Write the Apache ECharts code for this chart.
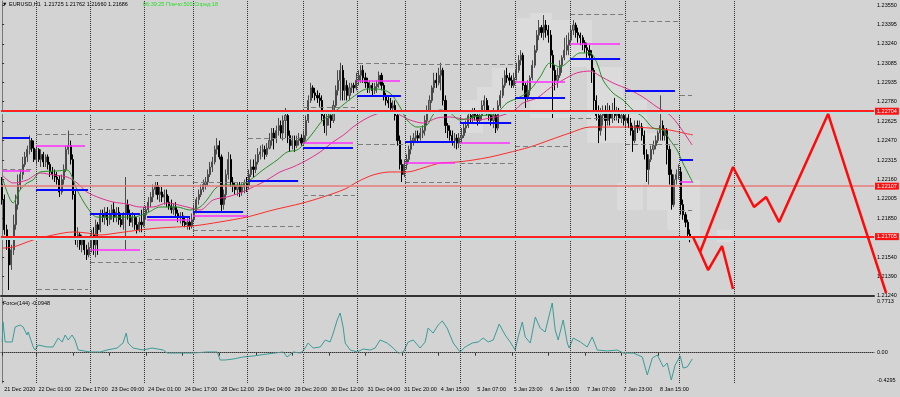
<!DOCTYPE html>
<html>
<head>
<meta charset="utf-8">
<title>EURUSD,H1</title>
<script src="https://cdn.jsdelivr.net/npm/echarts@6/dist/echarts.min.js"></script>
<style>
html, body { margin: 0; padding: 0; background: #d3d3d3; }
#chart { width: 900px; height: 397px; }
</style>
</head>
<body>
<div id="chart"></div>
<script>
// EURUSD H1, 21 Dec 2020 - 8 Jan 2021 (MT4 screenshot)
var FONT = 'Liberation Sans, DejaVu Sans';
var NSLOTS = 382;     // bar slots across the plot, incl. the empty space on the right
var NSLOTS_WIDE = 389; // overlay that runs over the price scale (forecast tail)

// [open, close, low, high]
var candles = [
[1.2212,1.2200,1.2196,1.2218],[1.2200,1.2176,1.2172,1.2204],[1.2176,1.2168,1.2160,1.2180],[1.2168,1.2148,1.2128,1.2168],[1.2148,1.2160,1.2144,1.2164],
[1.2160,1.2180,1.2156,1.2188],[1.2180,1.2196,1.2176,1.2204],[1.2196,1.2212,1.2192,1.2220],[1.2212,1.2220,1.2208,1.2224],[1.2220,1.2228,1.2216,1.2234],
[1.2228,1.2234,1.2226,1.2238],[1.2234,1.2240,1.2230,1.2243],[1.2240,1.2247,1.2236,1.2251],[1.2247,1.2241,1.2238,1.2249],[1.2241,1.2232,1.2230,1.2247],
[1.2232,1.2240,1.2228,1.2243],[1.2240,1.2232,1.2230,1.2241],[1.2232,1.2236,1.2226,1.2240],[1.2236,1.2230,1.2226,1.2238],[1.2230,1.2234,1.2226,1.2236],
[1.2234,1.2228,1.2224,1.2236],[1.2228,1.2222,1.2218,1.2230],[1.2222,1.2220,1.2216,1.2226],[1.2220,1.2218,1.2214,1.2224],[1.2218,1.2216,1.2212,1.2222],
[1.2216,1.2206,1.2202,1.2219],[1.2206,1.2216,1.2204,1.2220],[1.2216,1.2224,1.2212,1.2228],[1.2224,1.2240,1.2222,1.2243],[1.2240,1.2243,1.2236,1.2255],
[1.2243,1.2232,1.2228,1.2247],[1.2232,1.2204,1.2200,1.2236],[1.2204,1.2168,1.2164,1.2208],[1.2168,1.2172,1.2162,1.2178],[1.2172,1.2164,1.2160,1.2174],
[1.2164,1.2168,1.2158,1.2172],[1.2168,1.2160,1.2156,1.2170],[1.2160,1.2156,1.2152,1.2164],[1.2156,1.2162,1.2154,1.2166],[1.2162,1.2172,1.2158,1.2176],
[1.2172,1.2164,1.2156,1.2178],[1.2164,1.2180,1.2154,1.2184],[1.2180,1.2176,1.2156,1.2182],[1.2176,1.2188,1.2174,1.2192],[1.2188,1.2186,1.2182,1.2192],
[1.2186,1.2190,1.2180,1.2194],[1.2190,1.2184,1.2179,1.2194],[1.2184,1.2188,1.2180,1.2192],[1.2188,1.2192,1.2184,1.2196],[1.2192,1.2186,1.2182,1.2198],
[1.2186,1.2190,1.2182,1.2194],[1.2190,1.2184,1.2180,1.2194],[1.2184,1.2180,1.2178,1.2189],[1.2180,1.2188,1.2176,1.2190],[1.2188,1.2196,1.2160,1.2218],
[1.2196,1.2188,1.2184,1.2200],[1.2188,1.2182,1.2179,1.2192],[1.2182,1.2186,1.2178,1.2190],[1.2186,1.2180,1.2176,1.2189],[1.2180,1.2176,1.2173,1.2186],
[1.2176,1.2182,1.2174,1.2186],[1.2182,1.2180,1.2174,1.2192],[1.2180,1.2188,1.2178,1.2194],[1.2188,1.2192,1.2184,1.2195],[1.2192,1.2198,1.2190,1.2202],
[1.2198,1.2202,1.2194,1.2206],[1.2202,1.2208,1.2198,1.2212],[1.2208,1.2211,1.2204,1.2214],[1.2211,1.2204,1.2200,1.2214],[1.2204,1.2206,1.2198,1.2210],
[1.2206,1.2202,1.2198,1.2210],[1.2202,1.2204,1.2196,1.2208],[1.2204,1.2198,1.2194,1.2208],[1.2198,1.2195,1.2192,1.2203],[1.2195,1.2192,1.2189,1.2200],
[1.2192,1.2194,1.2188,1.2197],[1.2194,1.2189,1.2186,1.2198],[1.2189,1.2186,1.2182,1.2192],[1.2186,1.2187,1.2181,1.2190],[1.2187,1.2182,1.2179,1.2190],
[1.2182,1.2180,1.2178,1.2187],[1.2180,1.2182,1.2176,1.2185],[1.2182,1.2179,1.2176,1.2186],[1.2179,1.2184,1.2177,1.2189],[1.2184,1.2190,1.2182,1.2196],
[1.2190,1.2200,1.2189,1.2202],[1.2200,1.2204,1.2196,1.2208],[1.2204,1.2208,1.2202,1.2212],[1.2208,1.2212,1.2206,1.2216],[1.2212,1.2214,1.2208,1.2218],
[1.2214,1.2220,1.2211,1.2224],[1.2220,1.2226,1.2218,1.2230],[1.2226,1.2230,1.2222,1.2234],[1.2230,1.2240,1.2228,1.2243],[1.2240,1.2243,1.2236,1.2249],
[1.2243,1.2234,1.2232,1.2247],[1.2234,1.2196,1.2190,1.2236],[1.2196,1.2204,1.2192,1.2208],[1.2204,1.2220,1.2200,1.2224],[1.2220,1.2232,1.2216,1.2238],
[1.2232,1.2214,1.2210,1.2236],[1.2214,1.2211,1.2206,1.2218],[1.2211,1.2208,1.2204,1.2214],[1.2208,1.2211,1.2203,1.2214],[1.2211,1.2206,1.2202,1.2214],
[1.2206,1.2210,1.2203,1.2213],[1.2210,1.2213,1.2205,1.2216],[1.2213,1.2211,1.2206,1.2218],[1.2211,1.2220,1.2208,1.2224],[1.2220,1.2226,1.2218,1.2232],
[1.2226,1.2224,1.2218,1.2232],[1.2224,1.2230,1.2221,1.2236],[1.2230,1.2236,1.2228,1.2241],[1.2236,1.2238,1.2232,1.2243],[1.2238,1.2240,1.2234,1.2244],
[1.2240,1.2236,1.2232,1.2243],[1.2236,1.2241,1.2234,1.2245],[1.2241,1.2247,1.2240,1.2253],[1.2247,1.2253,1.2243,1.2257],[1.2253,1.2249,1.2240,1.2257],
[1.2249,1.2255,1.2245,1.2259],[1.2255,1.2259,1.2251,1.2265],[1.2259,1.2253,1.2249,1.2263],[1.2253,1.2263,1.2247,1.2267],[1.2263,1.2267,1.2249,1.2273],
[1.2267,1.2251,1.2245,1.2269],[1.2251,1.2243,1.2238,1.2255],[1.2243,1.2247,1.2240,1.2251],[1.2247,1.2243,1.2238,1.2251],[1.2243,1.2247,1.2241,1.2251],
[1.2247,1.2249,1.2243,1.2253],[1.2249,1.2245,1.2243,1.2252],[1.2245,1.2251,1.2244,1.2255],[1.2251,1.2263,1.2247,1.2267],[1.2263,1.2279,1.2261,1.2283],
[1.2279,1.2289,1.2277,1.2293],[1.2289,1.2285,1.2281,1.2291],[1.2285,1.2283,1.2279,1.2289],[1.2283,1.2281,1.2277,1.2287],[1.2281,1.2279,1.2274,1.2285],
[1.2279,1.2267,1.2263,1.2283],[1.2267,1.2259,1.2253,1.2269],[1.2259,1.2265,1.2251,1.2269],[1.2265,1.2267,1.2259,1.2271],[1.2267,1.2263,1.2257,1.2271],
[1.2263,1.2275,1.2261,1.2279],[1.2275,1.2287,1.2273,1.2291],[1.2287,1.2295,1.2283,1.2303],[1.2295,1.2303,1.2279,1.2309],[1.2303,1.2287,1.2279,1.2307],
[1.2287,1.2291,1.2279,1.2297],[1.2291,1.2283,1.2279,1.2295],[1.2283,1.2289,1.2279,1.2293],[1.2289,1.2291,1.2285,1.2293],[1.2291,1.2289,1.2285,1.2293],
[1.2289,1.2295,1.2287,1.2301],[1.2295,1.2299,1.2291,1.2303],[1.2299,1.2303,1.2293,1.2307],[1.2303,1.2297,1.2293,1.2307],[1.2297,1.2293,1.2289,1.2301],
[1.2293,1.2289,1.2285,1.2297],[1.2289,1.2291,1.2285,1.2295],[1.2291,1.2287,1.2283,1.2293],[1.2287,1.2290,1.2284,1.2293],[1.2290,1.2292,1.2285,1.2295],
[1.2292,1.2299,1.2289,1.2302],[1.2299,1.2291,1.2287,1.2301],[1.2291,1.2283,1.2279,1.2293],[1.2283,1.2279,1.2275,1.2285],[1.2279,1.2277,1.2273,1.2283],
[1.2277,1.2273,1.2269,1.2281],[1.2273,1.2275,1.2269,1.2279],[1.2275,1.2267,1.2263,1.2279],[1.2267,1.2247,1.2243,1.2269],[1.2247,1.2228,1.2224,1.2251],
[1.2228,1.2220,1.2214,1.2232],[1.2220,1.2228,1.2218,1.2232],[1.2228,1.2232,1.2224,1.2236],[1.2232,1.2240,1.2230,1.2243],[1.2240,1.2247,1.2236,1.2251],
[1.2247,1.2249,1.2243,1.2253],[1.2249,1.2251,1.2245,1.2255],[1.2251,1.2249,1.2245,1.2255],[1.2249,1.2253,1.2247,1.2257],[1.2253,1.2255,1.2249,1.2259],
[1.2255,1.2263,1.2251,1.2267],[1.2263,1.2271,1.2259,1.2275],[1.2271,1.2279,1.2269,1.2283],[1.2279,1.2289,1.2277,1.2291],[1.2289,1.2295,1.2285,1.2301],
[1.2295,1.2293,1.2289,1.2301],[1.2293,1.2299,1.2291,1.2305],[1.2299,1.2303,1.2287,1.2309],[1.2303,1.2279,1.2275,1.2305],[1.2279,1.2259,1.2253,1.2283],
[1.2259,1.2255,1.2249,1.2261],[1.2255,1.2251,1.2247,1.2259],[1.2251,1.2247,1.2243,1.2255],[1.2247,1.2249,1.2241,1.2253],[1.2249,1.2245,1.2240,1.2252],
[1.2245,1.2249,1.2241,1.2253],[1.2249,1.2251,1.2245,1.2257],[1.2251,1.2257,1.2249,1.2261],[1.2257,1.2259,1.2253,1.2263],[1.2259,1.2267,1.2257,1.2271],
[1.2267,1.2265,1.2261,1.2271],[1.2265,1.2269,1.2261,1.2273],[1.2269,1.2267,1.2263,1.2273],[1.2267,1.2263,1.2259,1.2271],[1.2263,1.2267,1.2261,1.2271],
[1.2267,1.2275,1.2263,1.2279],[1.2275,1.2279,1.2269,1.2283],[1.2279,1.2271,1.2267,1.2281],[1.2271,1.2267,1.2263,1.2275],[1.2267,1.2263,1.2259,1.2271],
[1.2263,1.2267,1.2257,1.2273],[1.2267,1.2257,1.2253,1.2269],[1.2257,1.2275,1.2255,1.2279],[1.2275,1.2283,1.2273,1.2287],[1.2283,1.2291,1.2281,1.2297],
[1.2291,1.2299,1.2289,1.2303],[1.2299,1.2297,1.2293,1.2305],[1.2297,1.2295,1.2291,1.2301],[1.2295,1.2291,1.2289,1.2299],[1.2291,1.2297,1.2289,1.2301],
[1.2297,1.2303,1.2295,1.2309],[1.2303,1.2311,1.2301,1.2315],[1.2311,1.2315,1.2307,1.2319],[1.2315,1.2291,1.2287,1.2317],[1.2291,1.2281,1.2273,1.2293],
[1.2281,1.2287,1.2279,1.2295],[1.2287,1.2297,1.2283,1.2299],[1.2297,1.2307,1.2295,1.2311],[1.2307,1.2319,1.2305,1.2323],[1.2319,1.2331,1.2317,1.2335],
[1.2331,1.2337,1.2327,1.2343],[1.2337,1.2333,1.2329,1.2339],[1.2333,1.2339,1.2327,1.2347],[1.2339,1.2335,1.2329,1.2343],[1.2335,1.2331,1.2325,1.2339],
[1.2331,1.2315,1.2305,1.2335],[1.2315,1.2303,1.2265,1.2319],[1.2303,1.2295,1.2287,1.2307],[1.2295,1.2299,1.2289,1.2305],[1.2299,1.2307,1.2297,1.2311],
[1.2307,1.2313,1.2301,1.2315],[1.2313,1.2319,1.2311,1.2329],[1.2319,1.2323,1.2315,1.2331],[1.2323,1.2327,1.2315,1.2333],[1.2327,1.2335,1.2325,1.2339],
[1.2335,1.2339,1.2331,1.2343],[1.2339,1.2333,1.2329,1.2341],[1.2333,1.2331,1.2325,1.2337],[1.2331,1.2329,1.2323,1.2333],[1.2329,1.2325,1.2319,1.2331],
[1.2325,1.2321,1.2317,1.2327],[1.2321,1.2319,1.2313,1.2325],[1.2319,1.2315,1.2311,1.2323],[1.2315,1.2303,1.2293,1.2319],[1.2303,1.2279,1.2271,1.2305],
[1.2279,1.2267,1.2263,1.2283],[1.2267,1.2255,1.2245,1.2275],[1.2255,1.2267,1.2251,1.2273],[1.2267,1.2271,1.2259,1.2275],[1.2271,1.2263,1.2247,1.2275],
[1.2263,1.2269,1.2259,1.2277],[1.2269,1.2265,1.2259,1.2275],[1.2265,1.2271,1.2261,1.2277],[1.2271,1.2267,1.2263,1.2281],[1.2267,1.2269,1.2263,1.2274],
[1.2269,1.2265,1.2261,1.2273],[1.2265,1.2267,1.2261,1.2271],[1.2267,1.2263,1.2259,1.2269],[1.2263,1.2265,1.2257,1.2269],[1.2265,1.2261,1.2257,1.2268],
[1.2261,1.2255,1.2251,1.2265],[1.2255,1.2247,1.2238,1.2259],[1.2247,1.2259,1.2245,1.2263],[1.2259,1.2257,1.2253,1.2263],[1.2257,1.2258,1.2255,1.2263],
[1.2258,1.2251,1.2247,1.2261],[1.2251,1.2236,1.2232,1.2255],[1.2236,1.2224,1.2214,1.2240],[1.2224,1.2232,1.2212,1.2236],[1.2232,1.2240,1.2230,1.2243],
[1.2240,1.2243,1.2236,1.2247],[1.2243,1.2247,1.2240,1.2251],[1.2247,1.2253,1.2245,1.2255],[1.2253,1.2259,1.2247,1.2283],[1.2259,1.2251,1.2247,1.2263],
[1.2251,1.2255,1.2247,1.2257],[1.2255,1.2240,1.2228,1.2257],[1.2240,1.2220,1.2212,1.2243],[1.2220,1.2196,1.2192,1.2224],[1.2196,1.2216,1.2194,1.2220],
[1.2216,1.2220,1.2212,1.2224],[1.2220,1.2222,1.2216,1.2228],[1.2222,1.2196,1.2188,1.2226],[1.2196,1.2188,1.2184,1.2200],[1.2188,1.2182,1.2178,1.2190],
[1.2182,1.21725,1.2171,1.2184],[1.21725,1.21686,1.21660,1.21762]
];

// moving averages: [bar position, price]
var maFast = [[0.4,1.22156],[4.8,1.21973],[7.8,1.22076],[10.9,1.22132],[13.5,1.22156],[16.6,1.22220],[24.0,1.22228],[28.4,1.22236],[32.8,1.22076],[37.1,1.21941],[41.5,1.21861],[47.2,1.21861],[57.3,1.21861],[63.4,1.21893],[69.1,1.21941],[76.5,1.21941],[82.2,1.21917],[86.6,1.21941],[89.6,1.21997],[94.0,1.22100],[98.4,1.22116],[104.1,1.22116],[108.5,1.22156],[114.1,1.22236],[120.3,1.22315],[124.7,1.22379],[129.0,1.22395],[131.6,1.22435],[136.0,1.22531],[140.4,1.22634],[146.5,1.22714],[153.5,1.22817],[159.7,1.22881],[164.0,1.22881],[169.7,1.22849],[174.1,1.22738],[177.2,1.22634],[181.5,1.22578],[185.9,1.22594],[188.5,1.22674],[191.6,1.22714],[196.0,1.22690],[200.3,1.22634],[206.0,1.22658],[212.2,1.22674],[216.5,1.22690],[220.9,1.22770],[226.6,1.22817],[231.0,1.22873],[235.4,1.22977],[239.7,1.23088],[244.1,1.23056],[248.5,1.23112],[252.9,1.23168],[257.2,1.23168],[260.3,1.23088],[262.9,1.22953],[267.3,1.22849],[271.7,1.22793],[276.0,1.22714],[280.4,1.22658],[284.8,1.22570],[289.2,1.22554],[292.2,1.22475],[295.3,1.22395],[297.9,1.22291],[302.3,1.22132]];
var maMid = [[0,1.22196],[4.8,1.22132],[10.9,1.22156],[16.6,1.22212],[22.3,1.22196],[28.4,1.22180],[32.8,1.22132],[37.1,1.22060],[42.8,1.22013],[48.5,1.21981],[54.6,1.21965],[60.3,1.21941],[66.0,1.21941],[72.1,1.21973],[80.9,1.21941],[86.6,1.21917],[92.3,1.21997],[98.4,1.22021],[104.1,1.22053],[109.8,1.22100],[115.9,1.22156],[121.6,1.22220],[127.3,1.22260],[133.4,1.22315],[139.1,1.22379],[144.8,1.22459],[150.0,1.22523],[153.5,1.22578],[159.7,1.22650],[165.3,1.22690],[171.0,1.22706],[174.1,1.22674],[178.5,1.22634],[184.2,1.22610],[190.3,1.22650],[196.0,1.22658],[201.7,1.22642],[207.8,1.22634],[213.5,1.22650],[219.2,1.22674],[224.4,1.22714],[227.9,1.22770],[234.0,1.22809],[239.7,1.22889],[245.4,1.22953],[251.5,1.23009],[257.2,1.23024],[261.6,1.22985],[267.3,1.22929],[274.7,1.22873],[280.4,1.22817],[286.5,1.22738],[292.2,1.22674],[296.6,1.22578],[301.9,1.22435]];
var maSlow = [[0,1.21614],[4.8,1.21622],[13.5,1.21678],[22.3,1.21718],[31.0,1.21742],[37.1,1.21734],[42.8,1.21718],[50.3,1.21734],[60.3,1.21758],[69.1,1.21774],[83.5,1.21790],[95.3,1.21822],[107.1,1.21861],[118.5,1.21917],[131.6,1.21973],[140.4,1.22021],[150.0,1.22084],[155.3,1.22140],[162.3,1.22196],[169.7,1.22220],[177.2,1.22220],[184.2,1.22252],[191.6,1.22291],[199.0,1.22299],[206.0,1.22315],[213.5,1.22339],[220.9,1.22371],[231.0,1.22419],[239.7,1.22475],[248.5,1.22531],[257.2,1.22578],[266.0,1.22578],[274.7,1.22578],[283.5,1.22570],[292.2,1.22554],[297.9,1.22531],[302.3,1.22515]];

// daily levels: [from bar, to bar, price]
var blueLevels = [[0,12.2,1.22491],[14.8,37.6,1.22076],[38.4,60.3,1.21885],[63.4,82.2,1.21861],[83.5,105.4,1.21901],[107.6,129.5,1.22148],[131.6,153.5,1.22411],[155.3,174.5,1.22825],[176.3,198.2,1.22459],[200.3,222.7,1.22610],[224.4,246.3,1.22809],[248.5,270.4,1.23120],[272.6,294.4,1.22865],[296.6,302.3,1.22315]];
var pinkLevels = [[0,12.2,1.22228],[14.8,36.3,1.22427],[38.4,60.3,1.21598],[63.4,82.2,1.21837],[83.5,107.1,1.21869],[131.6,153.5,1.22451],[155.3,174.1,1.22945],[176.3,198.2,1.22291],[200.3,222.2,1.22451],[224.4,246.3,1.22937],[248.5,270.4,1.23239],[296.6,301.9,1.22140]];
var dashLevels = [[0,13.5,1.22244],[15.3,37.6,1.22522],[15.3,37.6,1.21288],[38.4,61.6,1.22562],[38.4,61.6,1.21503],[63.4,83.1,1.22196],[63.4,83.1,1.21527],[83.5,107.1,1.22140],[83.5,107.1,1.21758],[107.6,130.3,1.22491],[107.6,130.3,1.21790],[131.6,154.4,1.22738],[131.6,154.4,1.22037],[155.7,176.3,1.23088],[155.7,176.3,1.22443],[176.3,199.5,1.23080],[176.3,199.5,1.22140],[200.3,224.4,1.23080],[200.3,224.4,1.22291],[224.4,247.6,1.22427],[248.5,271.7,1.23478],[248.5,271.7,1.22650],[272.6,295.7,1.23423],[272.6,295.7,1.22443],[296.6,301.9,1.22833],[296.6,301.9,1.21917]];

// light session boxes: [from bar, to bar, top price, bottom price]
var boxes = [[201.2,210.4,1.22793,1.22530],[207.8,216.5,1.22897,1.22714],[214.4,224.4,1.23048,1.22714],[225.3,231.0,1.23446,1.22897],[231.0,240.7,1.23486,1.22650],[238.4,248.5,1.23431,1.22650],[248.5,258.1,1.23431,1.23056],[255.9,271.7,1.23056,1.22451],[271.7,282.2,1.22793,1.22132],[269.1,280.4,1.22132,1.21917],[282.2,291.0,1.22530,1.21917],[291.0,299.8,1.22156,1.21758],[299.8,305.4,1.22156,1.21678],[312.8,319.4,1.21758,1.21662]];

var redLevels = [1.22704, 1.22107, 1.21705];
var lastPrice = 1.21686;
var dayLines = [14.8, 38.4, 62.1, 83.5, 107.1, 131.6, 155.3, 176.3, 200.3, 224.4, 248.5, 272.6, 296.2, 320.3];

// hand-drawn forecast zigzags: [bar position, price]
var forecastUp = [[302.3,1.21702],[305.4,1.21582],[319.8,1.22260],[329.0,1.21941],[334.3,1.22021],[340.0,1.21821],[361.4,1.22682],[371.0,1.22140],[386.8,1.21256]];
var forecastDown = [[305.4,1.21582],[308.9,1.21439],[315.0,1.21630],[319.8,1.21288]];

// Force(144) sub window
var forceBars = [0,0.4,1.3,4.4,5.7,7.9,9.2,10.9,11.4,13.6,14.4,15.8,19.7,22.3,24.5,26.3,27.6,28.9,30.6,31.9,33.3,38.5,42.9,45.9,50.3,52.9,54.3,55.1,57.3,61.7,65.6,70.5,72.2,76.6,83.6,89.7,94.1,95.4,97.6,101.1,105.5,109.8,116.0,123.0,124.7,127.4,130.4,131.7,133.9,136.1,139.2,141.4,143.5,144.9,146.6,147.9,149.2,150.1,152.3,155.4,158.0,161.1,163.2,165.4,168.5,171.1,173.3,175.5,177.7,179.9,182.9,185.1,186.4,188.6,190.8,192.6,194.7,197.4,200.4,202.6,205.7,208.3,210.5,212.7,214.9,217.5,220.1,222.3,224.5,225.8,227.6,228.9,231.1,233.3,235.4,237.6,240.7,242.0,243.3,245.5,247.3,248.1,249.9,253.0,256.0,258.2,260.4,264.8,269.1,271.8,276.2,280.1,282.3,284.5,286.7,289.3,291.0,292.8,294.5,296.7,298.0,299.8,302.0];
var forceValues = [0.163,0.467,0.163,0.163,0.391,0.421,0.391,0.269,0.315,0.087,0.041,0.117,0.087,0.087,0.223,0.163,0.269,0.193,0.269,0.193,0.041,0.011,0.011,0.041,0.071,0.147,0.299,0.147,0.071,0.041,0.071,0.041,-0.005,-0.005,-0.005,0.011,0.011,-0.111,-0.111,-0.096,-0.065,-0.050,-0.020,0.011,-0.065,0.011,-0.005,0.026,0.147,0.071,0.087,0.193,0.163,0.299,0.497,0.603,0.391,0.147,0.041,0.011,0.056,0.041,0.071,0.193,0.147,0.071,-0.005,0.011,0.163,0.193,0.071,0.163,0.375,0.299,0.421,0.482,0.375,0.147,0.011,0.087,0.147,0.163,0.223,0.163,0.193,0.436,0.269,0.163,0.041,0.239,0.467,0.239,0.147,0.543,0.375,0.315,0.755,0.345,0.193,0.497,0.147,0.071,0.223,0.163,0.087,0.239,0.041,0.026,0.041,-0.005,-0.005,-0.065,-0.339,-0.081,-0.035,-0.217,-0.157,-0.415,-0.187,-0.050,-0.233,-0.217,-0.0948];

var priceTicks = [1.23550,1.23395,1.23240,1.23085,1.22935,1.22780,1.22625,1.22470,1.22315,1.22160,1.22005,1.21850,1.21695,1.21540,1.21390,1.21240];
var forceTicks = [0.7713, 0, -0.4295];
var forceTickText = ['0.7713', '0.00', '-0.4295'];
var timeLabelBars = [0,15,31,47,63,79,95,111,127,143,159,175,191,207,223,239,255,271,287];
var timeLabels = ['21 Dec 2020','22 Dec 01:00','22 Dec 17:00','23 Dec 09:00','24 Dec 01:00','24 Dec 17:00','28 Dec 12:00','29 Dec 04:00','29 Dec 20:00','30 Dec 12:00','31 Dec 04:00','31 Dec 20:00','4 Jan 15:00','5 Jan 07:00','5 Jan 23:00','6 Jan 15:00','7 Jan 07:00','7 Jan 23:00','8 Jan 15:00'];

var PRICE_MIN = 1.212321, PRICE_MAX = 1.235820;

var slots = [];
for (var i = 0; i < NSLOTS; i++) slots.push(String(i));

function nearest(list, v) {
  var best = 0;
  for (var k = 1; k < list.length; k++) {
    if (Math.abs(list[k] - v) < Math.abs(list[best] - v)) best = k;
  }
  return best;
}
function segs(list) {
  return list.map(function (s) { return [{ coord: [s[0], s[2]] }, { coord: [s[1], s[2]] }]; });
}
var forceData = forceBars.map(function (b, k) { return [b, forceValues[k]]; });

var txt = { fontSize: 5.5, fontWeight: 'normal', color: '#000', fontFamily: FONT };
var noLabel = { show: false };

var chart = echarts.init(document.getElementById('chart'), null, { renderer: 'canvas' });
chart.setOption({
  animation: false,
  backgroundColor: '#d3d3d3',
  title: [
    { text: '\u25BC EURUSD,H1  1.21725 1.21762 1.21660 1.21686', left: 2, top: 1, padding: 0, textStyle: txt },
    { text: '06:39:25 Плечо:500 Спред:18', left: 143, top: 1, padding: 0, textStyle: Object.assign({}, txt, { color: '#2bdc2b' }) },
    { text: 'Force(144) -0.0948', left: 3, top: 300, padding: 0, textStyle: txt }
  ],
  grid: [
    { left: 1, top: 1, width: 873, height: 295 },
    { left: 1, top: 298, width: 873, height: 85 },
    // same scale as the price pane, but reaching over the price scale
    { left: 1, top: 1, width: 873 * NSLOTS_WIDE / NSLOTS, height: 295 }
  ],
  xAxis: [
    { type: 'category', gridIndex: 0, data: slots, boundaryGap: true,
      axisLabel: noLabel, axisTick: { show: false }, splitLine: { show: false },
      axisLine: { show: true, lineStyle: { color: '#333', width: 2 } } },
    { type: 'value', gridIndex: 0, min: -0.5, max: NSLOTS - 0.5, show: false },
    { type: 'value', gridIndex: 1, min: -0.5, max: NSLOTS - 0.5,
      splitLine: { show: false },
      axisLine: { show: true, lineStyle: { color: '#333', width: 1 } },
      axisTick: { show: true, customValues: timeLabelBars, length: 3, lineStyle: { color: '#333' } },
      axisLabel: { customValues: timeLabelBars, fontSize: 5.5, color: '#000', fontFamily: FONT,
        align: 'left', margin: 3, padding: [0, 0, 0, 2],
        formatter: function (v) { return timeLabels[nearest(timeLabelBars, v)]; } } },
    { type: 'value', gridIndex: 2, min: -0.5, max: NSLOTS_WIDE - 0.5, show: false }
  ],
  yAxis: [
    { type: 'value', gridIndex: 0, position: 'right', min: PRICE_MIN, max: PRICE_MAX,
      splitLine: { show: false },
      axisLine: { show: true, lineStyle: { color: '#777' } },
      axisTick: { show: true, customValues: priceTicks, length: 2, lineStyle: { color: '#333' } },
      axisLabel: { customValues: priceTicks, fontSize: 5.5, color: '#000', fontFamily: FONT, margin: 3,
        formatter: function (v) { return v.toFixed(5); } } },
    { type: 'value', gridIndex: 1, position: 'right', min: -0.4606, max: 0.8314,
      splitLine: { show: false },
      axisLine: { show: true, lineStyle: { color: '#777' } },
      axisTick: { show: true, customValues: forceTicks, length: 2, lineStyle: { color: '#333' } },
      axisLabel: { customValues: forceTicks, fontSize: 5.5, color: '#000', fontFamily: FONT, margin: 3,
        formatter: function (v) { return forceTickText[nearest(forceTicks, v)]; } } },
    { type: 'value', gridIndex: 2, min: PRICE_MIN, max: PRICE_MAX, show: false }
  ],
  series: [
    { type: 'line', xAxisIndex: 1, yAxisIndex: 0, data: [], z: 1, silent: true,
      markArea: { silent: true, label: noLabel, itemStyle: { color: '#dbdbdb' },
        data: boxes.map(function (b) { return [{ coord: [b[0], b[2]] }, { coord: [b[1], b[3]] }]; }) } },
    { type: 'line', xAxisIndex: 1, yAxisIndex: 0, data: [], z: 2, silent: true,
      markLine: { silent: true, precision: 5, symbol: ['none', 'none'], label: noLabel,
        lineStyle: { color: '#333', type: 'dotted', width: 1 },
        data: dayLines.map(function (v) { return { xAxis: v }; }) } },
    { type: 'line', xAxisIndex: 1, yAxisIndex: 0, data: [], z: 2, silent: true,
      markLine: { silent: true, precision: 5, symbol: ['none', 'none'], label: noLabel,
        lineStyle: { color: '#7c7c7c', type: [5, 3], width: 1 }, data: segs(dashLevels) } },
    { type: 'candlestick', xAxisIndex: 0, yAxisIndex: 0, data: candles, barWidth: 1.6, z: 3,
      itemStyle: { color: '#8a8a8a', color0: '#000', borderColor: '#4a4a4a', borderColor0: '#000', borderWidth: 1 } },
    { type: 'line', xAxisIndex: 1, yAxisIndex: 0, data: maSlow, smooth: 0.3, showSymbol: false, z: 4,
      lineStyle: { color: '#ff2b2b', width: 1 } },
    { type: 'line', xAxisIndex: 1, yAxisIndex: 0, data: maMid, smooth: 0.3, showSymbol: false, z: 4,
      lineStyle: { color: '#e0308f', width: 1 } },
    { type: 'line', xAxisIndex: 1, yAxisIndex: 0, data: maFast, smooth: 0.3, showSymbol: false, z: 4,
      lineStyle: { color: '#249024', width: 1 } },
    { type: 'line', xAxisIndex: 1, yAxisIndex: 0, data: [], z: 5, silent: true,
      markLine: { silent: true, precision: 5, symbol: ['none', 'none'], label: noLabel,
        lineStyle: { color: '#ff2cff', type: 'solid', width: 1.5 }, data: segs(pinkLevels) } },
    { type: 'line', xAxisIndex: 1, yAxisIndex: 0, data: [], z: 5, silent: true,
      markLine: { silent: true, precision: 5, symbol: ['none', 'none'], label: noLabel,
        lineStyle: { color: '#0a0aff', type: 'solid', width: 2 }, data: segs(blueLevels) } },
    { type: 'line', xAxisIndex: 1, yAxisIndex: 0, data: [], z: 6, silent: true,
      markLine: { silent: true, precision: 5, symbol: ['none', 'none'],
        lineStyle: { opacity: 0 },
        label: { show: true, position: 'end', distance: 1, backgroundColor: '#000', color: '#fff',
          fontSize: 5.5, fontFamily: FONT, padding: [1, 2, 0, 2],
          formatter: function (p) { return Number(p.value).toFixed(5); } },
        data: [{ yAxis: lastPrice }] } },
    { type: 'line', xAxisIndex: 1, yAxisIndex: 0, data: [], z: 7, silent: true,
      markLine: { silent: true, precision: 5, symbol: ['none', 'none'],
        label: { show: true, position: 'end', distance: 1, backgroundColor: '#ff1010', color: '#fff',
          fontSize: 5.5, fontFamily: FONT, padding: [1, 2, 0, 2],
          formatter: function (p) { return Number(p.value).toFixed(5); } },
        data: redLevels.map(function (v, k) {
          return { yAxis: v, lineStyle: k === 1
            ? { color: '#e77a7a', width: 1.5, type: 'solid' }
            : { color: '#ff2020', width: 2, type: 'solid', shadowColor: '#b2e2e2', shadowOffsetY: 2, shadowBlur: 0 } };
        }) } },
    { type: 'line', xAxisIndex: 3, yAxisIndex: 2, data: forecastDown, showSymbol: false, z: 8,
      lineStyle: { color: '#ff0a0a', width: 2.5 } },
    { type: 'line', xAxisIndex: 3, yAxisIndex: 2, data: forecastUp, showSymbol: false, z: 8,
      lineStyle: { color: '#ff0a0a', width: 2.5 } },
    { type: 'line', xAxisIndex: 2, yAxisIndex: 1, data: forceData, showSymbol: false, z: 4,
      lineStyle: { color: '#3a9c98', width: 1 },
      markLine: { silent: true, precision: 5, symbol: ['none', 'none'], label: noLabel,
        data: dayLines.map(function (v) {
          return { xAxis: v, lineStyle: { color: '#333', type: 'dotted', width: 1 } };
        }).concat([{ yAxis: 0, lineStyle: { color: '#808080', type: 'dotted', width: 1 } }]) } }
  ]
});
</script>
</body>
</html>
